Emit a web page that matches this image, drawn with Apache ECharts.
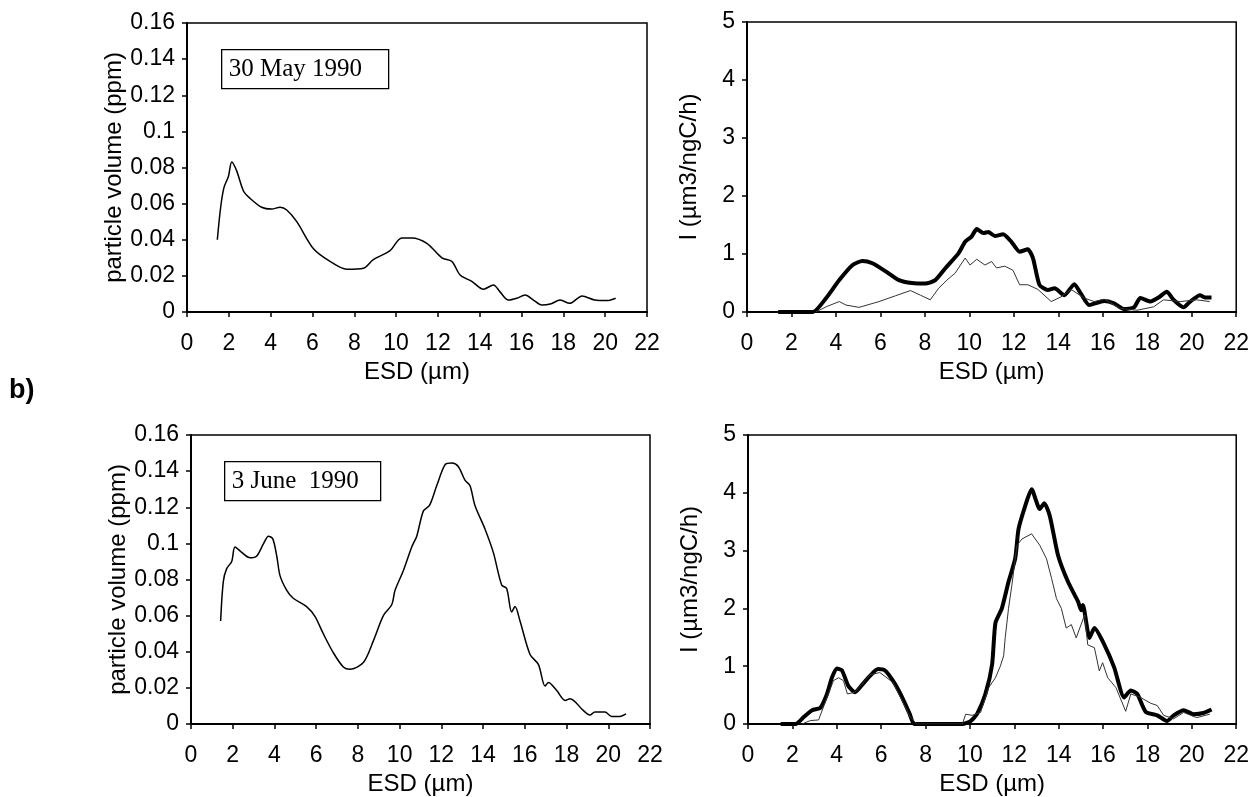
<!DOCTYPE html>
<html>
<head>
<meta charset="utf-8">
<script src="https://cdn.jsdelivr.net/npm/echarts@6/dist/echarts.min.js"></script>
<style>
  html, body { margin: 0; padding: 0; background: #fff; }
  #main { width: 1252px; height: 797px; }
</style>
</head>
<body>
<div id="main"></div>
<script>
// a) 30 May 1990 — particle volume
const esdA = [1.45, 1.61, 1.77, 1.98, 2.14, 2.38, 2.7, 3.01, 3.57, 4.05, 4.45, 4.77, 5.25, 6.05, 6.84, 7.64, 8.44, 8.91, 9.71, 10.27, 10.75, 11.47, 12.19, 12.67, 13.06, 13.62, 14.18, 14.66, 14.98, 15.37, 15.77, 16.17, 16.57, 16.97, 17.37, 17.85, 18.3, 18.9, 19.5, 20.1, 20.5]
const volA = [0.04, 0.058, 0.069, 0.075, 0.083, 0.078, 0.067, 0.063, 0.058, 0.057, 0.058, 0.0565, 0.05, 0.035, 0.028, 0.0236, 0.0242, 0.029, 0.034, 0.041, 0.041, 0.038, 0.03, 0.028, 0.0205, 0.017, 0.0126, 0.015, 0.011, 0.0066, 0.0076, 0.0094, 0.0066, 0.0039, 0.0044, 0.0066, 0.0048, 0.0089, 0.0066, 0.0063, 0.0076]

// 30 May 1990 — I, thick and thin curves
const esdB = [1.4, 2.96, 3.56, 4.15, 4.75, 5.19, 5.64, 6.24, 6.83, 7.42, 8.02, 8.47, 8.91, 9.51, 9.81, 10.1, 10.33, 10.63, 10.85, 11.15, 11.52, 11.89, 12.26, 12.63, 12.86, 13.15, 13.53, 13.83, 14.27, 14.72, 15.01, 15.39, 16.06, 16.5, 16.95, 17.4, 17.69, 18.14, 18.51, 18.88, 19.18, 19.63, 19.93, 20.37, 20.59, 20.89]
const thickB = [0, 0, 0.24, 0.55, 0.81, 0.88, 0.84, 0.7, 0.55, 0.5, 0.49, 0.55, 0.75, 1.01, 1.21, 1.3, 1.43, 1.36, 1.38, 1.31, 1.34, 1.21, 1.04, 1.08, 0.93, 0.47, 0.38, 0.41, 0.29, 0.48, 0.32, 0.12, 0.19, 0.15, 0.05, 0.08, 0.24, 0.18, 0.25, 0.35, 0.21, 0.08, 0.18, 0.29, 0.25, 0.25]
const esdB2 = [3.1, 3.56, 4.15, 4.45, 5.04, 5.94, 6.68, 7.35, 7.8, 8.24, 8.62, 8.99, 9.36, 9.81, 10.03, 10.33, 10.7, 11.0, 11.22, 11.59, 11.96, 12.26, 12.63, 13.08, 13.68, 14.12, 14.57, 15.17, 15.61, 16.06, 16.8, 17.54, 18.29, 18.73, 19.48, 20.22, 20.81]
const thinB = [0, 0.09, 0.18, 0.12, 0.08, 0.18, 0.28, 0.37, 0.29, 0.21, 0.41, 0.55, 0.67, 0.93, 0.81, 0.91, 0.81, 0.87, 0.76, 0.79, 0.72, 0.47, 0.47, 0.39, 0.18, 0.26, 0.39, 0.24, 0.18, 0.22, 0.06, 0.03, 0.09, 0.21, 0.18, 0.21, 0.18]

// b) 3 June 1990 — particle volume
const esdC = [1.42, 1.55, 1.71, 1.95, 2.11, 2.43, 2.83, 3.15, 3.47, 3.71, 3.92, 4.11, 4.27, 4.59, 4.9, 5.54, 5.94, 6.34, 6.82, 7.3, 7.62, 8.26, 8.74, 9.22, 9.62, 9.78, 10.18, 10.58, 10.82, 11.14, 11.43, 11.78, 12.18, 12.5, 12.81, 13.13, 13.37, 13.61, 14.09, 14.49, 14.89, 15.13, 15.37, 15.53, 15.77, 16.25, 16.65, 16.97, 17.13, 17.53, 17.93, 18.17, 18.8, 19.12, 19.36, 19.84, 20.16, 20.56, 20.85]
const volC = [0.057, 0.079, 0.086, 0.09, 0.098, 0.095, 0.092, 0.093, 0.0997, 0.104, 0.1025, 0.093, 0.082, 0.074, 0.0696, 0.065, 0.0596, 0.05, 0.0395, 0.0316, 0.0303, 0.034, 0.046, 0.06, 0.066, 0.074, 0.085, 0.098, 0.104, 0.118, 0.121, 0.132, 0.1436, 0.1445, 0.1426, 0.135, 0.132, 0.121, 0.108, 0.095, 0.077, 0.075, 0.062, 0.065, 0.057, 0.0385, 0.033, 0.021, 0.023, 0.0185, 0.013, 0.014, 0.0075, 0.005, 0.0066, 0.0066, 0.0042, 0.0042, 0.0056]

// 3 June 1990 — I, thick and thin curves
const esdD = [1.47, 2.14, 2.51, 2.89, 3.26, 3.56, 3.78, 4.0, 4.23, 4.52, 4.82, 5.19, 5.49, 5.86, 6.16, 6.53, 6.91, 7.28, 7.5, 9.66, 10.03, 10.33, 10.7, 11.0, 11.15, 11.44, 11.74, 12.04, 12.19, 12.49, 12.78, 13.15, 13.35, 13.6, 13.97, 14.42, 14.87, 15.01, 15.09, 15.39, 15.61, 16.06, 16.5, 16.95, 17.25, 17.54, 17.92, 18.44, 18.88, 19.18, 19.63, 20.08, 20.52, 20.89]
const thickD = [0, 0, 0.12, 0.24, 0.28, 0.52, 0.8, 0.96, 0.93, 0.66, 0.55, 0.7, 0.83, 0.95, 0.93, 0.75, 0.49, 0.18, 0, 0, 0.05, 0.18, 0.52, 1.03, 1.75, 2.0, 2.46, 2.86, 3.37, 3.77, 4.06, 3.72, 3.82, 3.6, 2.92, 2.46, 2.12, 1.97, 2.06, 1.49, 1.66, 1.37, 0.98, 0.46, 0.58, 0.52, 0.21, 0.15, 0.05, 0.15, 0.24, 0.17, 0.19, 0.25]
const esdD2 = [2.44, 2.81, 3.18, 3.56, 3.85, 4.08, 4.3, 4.48, 4.82, 5.49, 5.94, 6.53, 7.28, 7.6, 9.66, 9.81, 10.1, 10.48, 10.85, 11.15, 11.37, 11.52, 11.59, 11.74, 11.89, 12.12, 12.34, 12.78, 13.15, 13.45, 13.68, 13.9, 14.12, 14.34, 14.57, 14.79, 15.17, 15.31, 15.61, 15.83, 15.98, 16.21, 16.58, 17.02, 17.25, 17.69, 18.14, 18.44, 18.73, 19.18, 19.63, 20.22, 20.81]
const thinD = [0, 0.06, 0.07, 0.46, 0.75, 0.8, 0.75, 0.52, 0.55, 0.85, 0.89, 0.72, 0.14, 0, 0, 0.17, 0.15, 0.2, 0.63, 0.8, 1.0, 1.18, 1.49, 2.0, 2.4, 3.09, 3.2, 3.29, 3.09, 2.86, 2.52, 2.17, 2.0, 1.66, 1.72, 1.49, 1.89, 1.37, 1.32, 0.92, 1.06, 0.8, 0.63, 0.22, 0.52, 0.46, 0.36, 0.32, 0.15, 0.09, 0.2, 0.11, 0.17]

const xTicks = { min: 0, max: 22, interval: 2 }
const volTicks = { min: 0, max: 0.16, interval: 0.02 }
const iTicks = { min: 0, max: 5, interval: 1 }

const zip = (xs, ys) => xs.map((x, i) => [x, ys[i]])

const font = 'Liberation Sans, Arial, sans-serif'
const labelStyle = { color: '#000', fontFamily: font, fontSize: 23 }
const nameStyle = { color: '#000', fontFamily: font, fontSize: 24 }

const xAxis = (gridIndex) => ({
  type: 'value', gridIndex, ...xTicks,
  name: 'ESD (µm)', nameLocation: 'middle', nameGap: 48, nameTextStyle: nameStyle,
  axisLine: { lineStyle: { color: '#000', width: 2 } },
  axisTick: { show: true, length: 5, lineStyle: { color: '#000', width: 1.5 } },
  axisLabel: { ...labelStyle, margin: 20 },
  splitLine: { show: false }
})

const yAxis = (gridIndex, ticks, name, gap) => ({
  type: 'value', gridIndex, ...ticks,
  name, nameLocation: 'middle', nameGap: gap, nameTextStyle: nameStyle,
  axisLine: { show: true, lineStyle: { color: '#000', width: 2 } },
  axisTick: { show: true, length: 5, lineStyle: { color: '#000', width: 1.5 } },
  axisLabel: { ...labelStyle, margin: 12 },
  splitLine: { show: false }
})

const line = (i, data, width, color, smooth) => ({
  type: 'line', xAxisIndex: i, yAxisIndex: i, data,
  showSymbol: false, symbol: 'none', smooth: smooth || false,
  lineStyle: { color, width }, z: width > 2 ? 3 : 4,
  animation: false
})

const box = (x, y, w, h, text) => ({
  type: 'group', left: x, top: y,
  children: [
    { type: 'rect', shape: { x: 0, y: 0, width: w, height: h },
      style: { fill: '#fff', stroke: '#000', lineWidth: 1.3 } },
    { type: 'text', x: 7, y: h / 2,
      style: { text, fill: '#000', font: '25px "Liberation Serif", "Times New Roman", serif', textVerticalAlign: 'middle' } }
  ]
})

const grids = [
  { left: 187, top: 23, width: 460, height: 289 },
  { left: 747, top: 22, width: 493, height: 290 },
  { left: 191, top: 435, width: 459, height: 292 },
  { left: 748, top: 435, width: 492, height: 292 }
].map(g => ({ ...g, show: true, borderColor: '#000', borderWidth: 1.5, backgroundColor: 'transparent' }))

const chart = echarts.init(document.getElementById('main'))
chart.setOption({
  backgroundColor: '#fff',
  animation: false,
  grid: grids,
  xAxis: [xAxis(0), xAxis(1), xAxis(2), xAxis(3)],
  yAxis: [
    yAxis(0, volTicks, 'particle volume (ppm)', 61),
    yAxis(1, iTicks, 'I (µm3/ngC/h)', 46),
    yAxis(2, volTicks, 'particle volume (ppm)', 61),
    yAxis(3, iTicks, 'I (µm3/ngC/h)', 46)
  ],
  series: [
    line(0, zip(esdA, volA), 1.5, '#000', 0.3),
    line(1, zip(esdB, thickB), 4, '#000', 0.2),
    line(1, zip(esdB2, thinB), 1, '#333'),
    line(2, zip(esdC, volC), 1.5, '#000', 0.3),
    line(3, zip(esdD, thickD), 4, '#000', 0.2),
    line(3, zip(esdD2, thinD), 1, '#333')
  ],
  graphic: [
    box(221, 49, 167, 39, '30 May 1990'),
    box(224, 461, 156, 39, '3 June  1990'),
    { type: 'text', left: 9, top: 377,
      style: { text: 'b)', fill: '#000', font: 'bold 27px "Liberation Sans", Arial, sans-serif' } }
  ]
})
</script>
</body>
</html>
